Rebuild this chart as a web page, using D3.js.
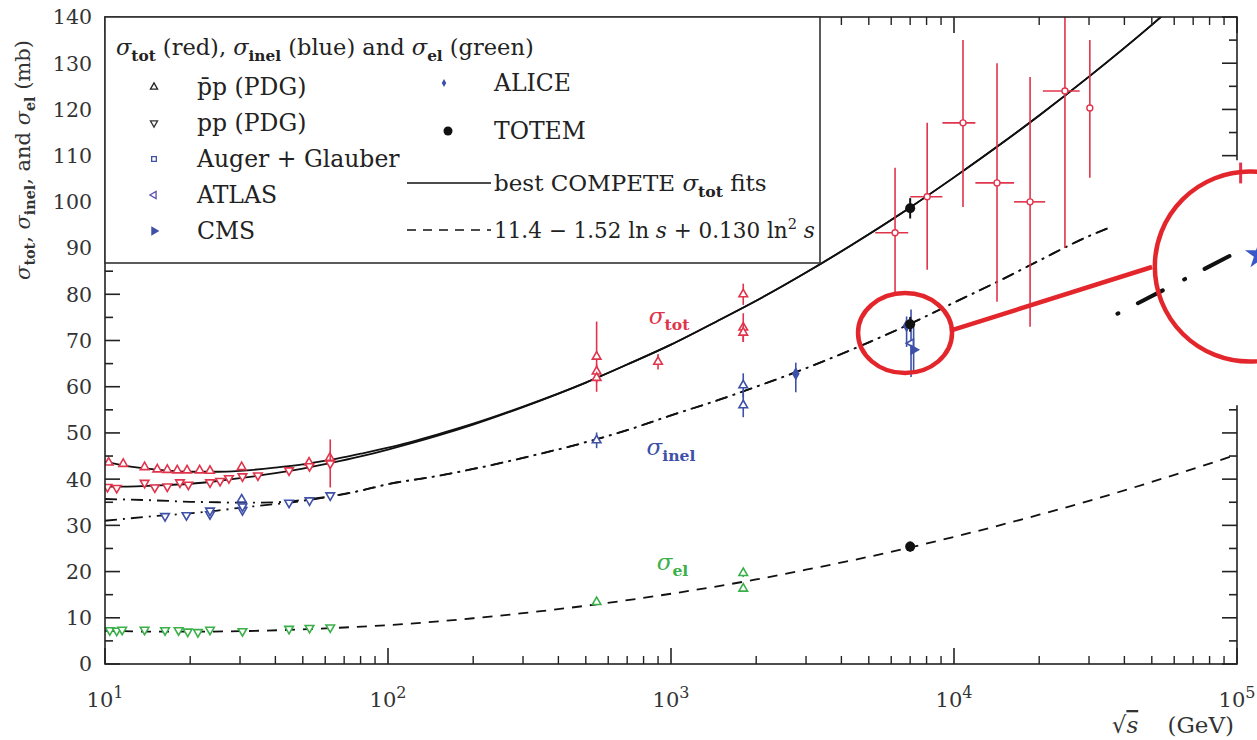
<!DOCTYPE html>
<html><head><meta charset="utf-8">
<script src="https://cdn.jsdelivr.net/npm/d3@7"></script>
<style>
body{margin:0;background:#fff;}
svg{display:block;font-family:"DejaVu Serif",serif;}
</style></head><body>
<svg id="c" width="1257" height="740"></svg>
<script>
// ---------------- data ----------------
const xTickExps = [1, 2, 3, 4, 5];
const yTickVals = [0, 10, 20, 30, 40, 50, 60, 70, 80, 90, 100, 110, 120, 130, 140];

// best COMPETE sigma_tot fits (pbar-p upper branch, pp lower branch)
const totFitE     = [10, 12, 15, 20, 25, 30, 40, 50, 63, 80, 100, 150, 200, 300, 500, 700, 1000, 1500, 2000, 3000, 5000, 7000, 10000, 15000, 20000, 30000, 50000, 60000];
const totFitPbarp = [43.8, 42.8, 42.1, 41.6, 41.6, 41.8, 42.5, 43.2, 44.2, 45.5, 46.8, 49.7, 52.0, 55.7, 60.9, 64.8, 69.1, 74.6, 78.6, 84.7, 93.0, 98.8, 105.3, 113.0, 118.7, 127.1, 138.3, 142.5];
const totFitPp    = [38.4, 38.4, 38.6, 39.0, 39.6, 40.2, 41.3, 42.3, 43.5, 44.9, 46.4, 49.4, 51.8, 55.6, 60.9, 64.8, 69.1, 74.6, 78.6, 84.7, 93.0, 98.8, 105.3, 113.0, 118.7, 127.1, 138.3, 142.5];

// inelastic fit (dash-dot)
const inelFitE     = [10, 15, 20, 25, 30, 40, 50, 63, 80, 100, 150, 200, 300, 500, 700, 1000, 1500, 2000, 3000, 5000, 7000, 10000, 15000, 20000, 30000, 35000];
const inelFitPbarp = [35.7, 35.4, 35.1, 35.0, 34.9, 35.0, 35.5, 36.3, 37.5, 38.9, 40.7, 42.2, 44.6, 48.0, 50.6, 53.8, 57.3, 60.0, 64.0, 69.6, 73.6, 78.2, 83.4, 87.3, 92.6, 94.3];
const inelFitPp    = [31.0, 32.0, 32.6, 33.2, 33.8, 34.6, 35.3, 36.3, 37.5, 38.9, 40.7, 42.2, 44.6, 48.0, 50.6, 53.8, 57.3, 60.0, 64.0, 69.6, 73.6, 78.2, 83.4, 87.3, 92.6, 94.3];

// elastic fit 11.4 - 1.52 ln s + 0.130 ln^2 s (dashed)
const elFitE = [10, 15, 20, 30, 50, 70, 100, 200, 300, 500, 1000, 2000, 3000, 5000, 10000, 20000, 30000, 50000, 100000];
const elFit  = [7.2, 7.0, 7.0, 7.1, 7.5, 7.9, 8.4, 9.9, 11.0, 12.6, 15.2, 18.3, 20.4, 23.2, 27.5, 32.3, 35.3, 39.4, 45.3];

// points: [sqrt(s) GeV, sigma mb, error]
const totPbarpPts = [[10.3,43.6,0.5],[11.6,43.3,0.5],[13.8,42.6,0.5],[15.3,42.1,0.4],[16.6,42.0,0.4],[18.0,41.9,0.4],[19.5,41.9,0.4],[21.6,41.9,0.4],[23.5,41.8,0.4],[30.4,42.6,0.6],[52.6,43.6,0.6],[62.3,44.6,1.0],
                     [546,66.5,7.6],[546,63.3,1.5],[546,61.9,1.0],[900,65.4,1.7],[1800,80.0,2.3],[1800,72.8,3.1],[1800,71.7,2.0]];
const totPpPts    = [[10.2,38.3,0.4],[11.0,38.1,0.4],[13.8,39.2,0.5],[15.0,38.2,0.4],[16.6,38.4,0.4],[18.4,39.3,0.4],[19.7,38.8,0.4],[23.5,39.3,0.4],[25.5,39.6,0.4],[27.4,40.2,0.4],[30.6,40.6,0.4],[34.7,40.8,0.4],[44.7,41.9,0.4],[52.8,42.8,0.4],[62.5,43.4,5.2]];
const inelPbarpPts = [[30.4,35.6,0.6],[546,48.4,1.7],[1800,60.3,2.6],[1800,56.0,2.6]];
const inelPpPts    = [[16.3,32.0,0.4],[19.4,32.2,0.4],[23.5,32.4,0.5],[23.5,33.2,0.5],[30.6,33.3,0.5],[30.6,34.1,0.5],[44.7,34.9,0.4],[52.8,35.4,0.4],[62.5,36.5,0.4]];
const elPbarpPts   = [[546,13.4,0.6],[1800,19.7,0.9],[1800,16.3,0.6]];
const elPpPts      = [[10.4,7.3,0.3],[11.0,7.2,0.3],[11.5,7.4,0.3],[13.8,7.4,0.3],[16.3,7.3,0.3],[18.2,7.3,0.3],[19.6,7.0,0.3],[21.3,6.9,0.3],[23.5,7.4,0.4],[30.6,7.1,0.3],[44.7,7.6,0.3],[52.8,7.8,0.3],[62.5,7.9,0.3]];
// LHC inelastic: [sqrt(s), sigma, err down, err up]
const alicePts = [[2760,62.8,4.0,2.4],[6800,73.2,4.6,2.0]];
const atlasPts = [[7050,69.4,7.3,7.3]];
const cmsPts   = [[7200,68.0,4.9,4.9]];
// TOTEM: [sqrt(s), sigma, err]
const totemPts = [[7000,98.6,2.2],[7000,73.5,1.6],[7000,25.4,1.1]];
// cosmic-ray sigma_tot (Auger + Glauber etc.): [E, Elow, Ehigh, sigma, sigmaLow, sigmaHigh]
const cosmicPts = [[6190,5270,6890,93.3,80.3,107.4],[8040,7000,9100,101.1,85.3,117.1],[10760,9100,11900,117.1,98.9,135.0],
                   [14190,11900,16300,104.1,78.4,130.0],[18570,16300,21000,100.0,73.0,127.0],[24660,20600,27800,124.0,90.0,152.0],[30200,30200,30200,120.3,105.2,135.0]];

// ---------------- chart ----------------
const svg = d3.select("#c");
svg.append("rect").attr("width",1257).attr("height",740).attr("fill","#fff");
const x = d3.scaleLog().domain([10, 1e5]).range([105, 1237]);
const y = d3.scaleLinear().domain([0, 140]).range([664, 17]);
const X0 = x.range()[0], X1 = x.range()[1], Y0 = y.range()[0], Y1 = y.range()[1];

const RED = "#e0344c", BLUE = "#3e50a8", GREEN = "#3bb04a", INK = "#111";

svg.append("defs").append("clipPath").attr("id","plot")
  .append("rect").attr("x",X0).attr("y",Y1).attr("width",X1-X0).attr("height",Y0-Y1);

const line = d3.line().x(d=>x(d[0])).y(d=>y(d[1])).curve(d3.curveMonotoneX);
const gC = svg.append("g").attr("clip-path","url(#plot)");
function curve(E, V, dash){
  gC.append("path").datum(d3.zip(E,V)).attr("d",line).attr("fill","none")
    .attr("stroke",INK).attr("stroke-width",1.8).attr("stroke-dasharray",dash||null);
}
curve(totFitE, totFitPbarp);
curve(totFitE, totFitPp);
curve(inelFitE, inelFitPbarp, "12,6,2,6");
curve(inelFitE, inelFitPp, "12,6,2,6");
curve(elFitE, elFit, "10,8");

// points
const gP = svg.append("g").attr("clip-path","url(#plot)");
const sym = (type,size)=>d3.symbol().type(type).size(size)();
function pts(data, color, type, rot, size, filled){
  data.forEach(p=>{
    const e=p[0], v=p[1], lo=p[2], hi=(p.length>3?p[3]:p[2]);
    gP.append("line").attr("x1",x(e)).attr("x2",x(e)).attr("y1",y(v-lo)).attr("y2",y(v+hi))
      .attr("stroke",color).attr("stroke-width",1.6);
    gP.append("path").attr("d",sym(type,size))
      .attr("transform",`translate(${x(e)},${y(v)}) rotate(${rot})`)
      .attr("fill",filled?color:"#fff").attr("stroke",color).attr("stroke-width",1.6);
  });
}
pts(totPbarpPts, RED, d3.symbolTriangle, 0, 32);
pts(totPpPts, RED, d3.symbolTriangle, 180, 32);
pts(inelPbarpPts, BLUE, d3.symbolTriangle, 0, 32);
pts(inelPpPts, BLUE, d3.symbolTriangle, 180, 32);
pts(elPbarpPts, GREEN, d3.symbolTriangle, 0, 32);
pts(elPpPts, GREEN, d3.symbolTriangle, 180, 32);
pts(atlasPts, BLUE, d3.symbolTriangle, -90, 30);
pts(cmsPts, BLUE, d3.symbolTriangle, 90, 30, true);
pts(alicePts, BLUE, d3.symbolDiamond, 0, 30, true);
cosmicPts.forEach(p=>{
  const [e,el,eh,v,vl,vh]=p;
  gP.append("line").attr("x1",x(e)).attr("x2",x(e)).attr("y1",y(vl)).attr("y2",y(vh)).attr("stroke",RED).attr("stroke-width",1.6);
  if (eh>el) gP.append("line").attr("x1",x(el)).attr("x2",x(eh)).attr("y1",y(v)).attr("y2",y(v)).attr("stroke",RED).attr("stroke-width",1.6);
  gP.append("circle").attr("cx",x(e)).attr("cy",y(v)).attr("r",3).attr("fill","#fff").attr("stroke",RED).attr("stroke-width",1.4);
});
totemPts.forEach(p=>{
  const [e,v,er]=p;
  gP.append("line").attr("x1",x(e)).attr("x2",x(e)).attr("y1",y(v-er)).attr("y2",y(v+er)).attr("stroke",INK).attr("stroke-width",2);
  gP.append("circle").attr("cx",x(e)).attr("cy",y(v)).attr("r",5).attr("fill",INK);
});

// frame and ticks
const gA = svg.append("g");
gA.append("rect").attr("x",X0).attr("y",Y1).attr("width",X1-X0).attr("height",Y0-Y1)
  .attr("fill","none").attr("stroke","#222").attr("stroke-width",1.6);
const minor = [];
xTickExps.slice(0,-1).forEach(k=>{ for(let m=2;m<=9;m++) minor.push(m*Math.pow(10,k)); });
xTickExps.forEach(k=>{
  const v=Math.pow(10,k), px=x(v);
  gA.append("line").attr("x1",px).attr("x2",px).attr("y1",Y0).attr("y2",Y0-16).attr("stroke","#222").attr("stroke-width",1.6);
  gA.append("line").attr("x1",px).attr("x2",px).attr("y1",Y1).attr("y2",Y1+16).attr("stroke","#222").attr("stroke-width",1.6);
  const t = gA.append("text").attr("x",px).attr("y",707).attr("text-anchor","middle").attr("font-size",21).attr("fill","#333");
  t.append("tspan").text("10");
  t.append("tspan").attr("font-size",16).attr("dy",-9).text(k);
});
minor.forEach(v=>{
  const px=x(v);
  gA.append("line").attr("x1",px).attr("x2",px).attr("y1",Y0).attr("y2",Y0-8).attr("stroke","#222").attr("stroke-width",1.4);
  gA.append("line").attr("x1",px).attr("x2",px).attr("y1",Y1).attr("y2",Y1+8).attr("stroke","#222").attr("stroke-width",1.4);
});
d3.range(0,141,5).forEach(v=>{
  const py=y(v), L=(v%10===0)?15:8;
  gA.append("line").attr("x1",X0).attr("x2",X0+L).attr("y1",py).attr("y2",py).attr("stroke","#222").attr("stroke-width",1.6);
  gA.append("line").attr("x1",X1).attr("x2",X1-L).attr("y1",py).attr("y2",py).attr("stroke","#222").attr("stroke-width",1.6);
});
yTickVals.forEach(v=>{
  gA.append("text").attr("x",92).attr("y",y(v)).attr("dy","0.36em").attr("text-anchor","end")
    .attr("font-size",20.5).attr("fill","#333").text(v);
});

// rich text helper
function rich(t, parts, fs){
  let shift=0;
  parts.forEach(p=>{
    const s=t.append("tspan").text(p.t);
    let target=0;
    if(p.it) s.attr("font-style","italic");
    if(p.sub){ target=fs*0.25; s.attr("font-size",fs*0.68).attr("font-weight","bold"); }
    if(p.sup){ target=-fs*0.4; s.attr("font-size",fs*0.68); }
    if(target!==shift){ s.attr("dy",target-shift); shift=target; }
  });
}

// curve labels
rich(svg.append("text").attr("x",x(835)).attr("y",y(73.6)).attr("font-size",23).attr("fill",RED),
  [{t:"σ",it:true},{t:"tot",sub:true}],23);
rich(svg.append("text").attr("x",x(820)).attr("y",y(45.2)).attr("font-size",23).attr("fill",BLUE),
  [{t:"σ",it:true},{t:"inel",sub:true}],23);
rich(svg.append("text").attr("x",x(890)).attr("y",y(20.3)).attr("font-size",23).attr("fill",GREEN),
  [{t:"σ",it:true},{t:"el",sub:true}],23);

// legend
const LX=X0, LY=Y1, LW=715, LH=246;
const gL = svg.append("g");
gL.append("rect").attr("x",LX).attr("y",LY).attr("width",LW).attr("height",LH)
  .attr("fill","#fff").attr("stroke","#333").attr("stroke-width",1.6);
rich(gL.append("text").attr("x",LX+11).attr("y",LY+38).attr("font-size",22.5).attr("fill","#222"),
  [{t:"σ",it:true},{t:"tot",sub:true},{t:" (red), "},{t:"σ",it:true},{t:"inel",sub:true},{t:" (blue) and "},{t:"σ",it:true},{t:"el",sub:true},{t:" (green)"}],22.5);
const FS=23.5;
const leftItems = [
  {lab:"p\u0304p (PDG)", type:d3.symbolTriangle, rot:0, c:"#222", fill:"#fff"},
  {lab:"pp (PDG)", type:d3.symbolTriangle, rot:180, c:"#333", fill:"#fff"},
  {lab:"Auger + Glauber", type:d3.symbolSquare, rot:0, c:BLUE, fill:"#fff"},
  {lab:"ATLAS", type:d3.symbolTriangle, rot:-90, c:"#5a4fb0", fill:"#fff"},
  {lab:"CMS", type:d3.symbolTriangle, rot:90, c:BLUE, fill:BLUE}
];
leftItems.forEach((it,i)=>{
  const cy = LY + 70 + i*36;
  gL.append("path").attr("d",sym(it.type,22)).attr("transform",`translate(${LX+49},${cy}) rotate(${it.rot})`)
    .attr("fill",it.fill).attr("stroke",it.c).attr("stroke-width",1.3);
  gL.append("text").attr("x",LX+92).attr("y",cy+8).attr("font-size",FS).attr("fill","#222").text(it.lab);
});
// right column
const RX = LX+339, TX = LX+389;
gL.append("path").attr("d",sym(d3.symbolDiamond,18)).attr("transform",`translate(${RX},${LY+66})`).attr("fill",BLUE);
gL.append("text").attr("x",TX).attr("y",LY+74).attr("font-size",FS).attr("fill","#222").text("ALICE");
gL.append("circle").attr("cx",RX+4).attr("cy",LY+114).attr("r",4.5).attr("fill",INK);
gL.append("text").attr("x",TX).attr("y",LY+122).attr("font-size",FS).attr("fill","#222").text("TOTEM");
gL.append("line").attr("x1",LX+302).attr("x2",TX-3).attr("y1",LY+166).attr("y2",LY+166).attr("stroke",INK).attr("stroke-width",1.6);
rich(gL.append("text").attr("x",TX).attr("y",LY+174).attr("font-size",23).attr("fill","#222"),
  [{t:"best COMPETE "},{t:"σ",it:true},{t:"tot",sub:true},{t:" fits"}],23);
gL.append("line").attr("x1",LX+302).attr("x2",TX-3).attr("y1",LY+213).attr("y2",LY+213).attr("stroke",INK).attr("stroke-width",1.6).attr("stroke-dasharray","9,7");
rich(gL.append("text").attr("x",TX).attr("y",LY+221).attr("font-size",21.5).attr("fill","#222"),
  [{t:"11.4 − 1.52 ln "},{t:"s",it:true},{t:" + 0.130 ln"},{t:"2",sup:true},{t:" "},{t:"s",it:true}],21.5);

// axis titles
const yl = svg.append("text").attr("transform","translate(30,160) rotate(-90)").attr("text-anchor","middle")
  .attr("font-size",21).attr("fill","#333");
rich(yl,[{t:"σ",it:true},{t:"tot",sub:true},{t:", "},{t:"σ",it:true},{t:"inel",sub:true},{t:", and "},{t:"σ",it:true},{t:"el",sub:true},{t:"   (mb)"}],21);
const xl = svg.append("text").attr("x",1234).attr("y",733).attr("text-anchor","end").attr("font-size",23).attr("fill","#333")
  .attr("xml:space","preserve").style("white-space","pre");
xl.append("tspan").text("√");
xl.append("tspan").attr("font-style","italic").style("text-decoration","overline").text("s");
xl.append("tspan").text("    (GeV)");

// zoom annotation
const AR = "#e3262c";
const smallC = [6714, 71.6], bigC = [111000, 86];
const linkA = [9900, 72.3], linkB = [50100, 85.9];
const inset = [36500, 1.4e5, 56, 109];
svg.append("rect").attr("x",x(inset[0])).attr("y",y(inset[3])).attr("width",x(inset[1])-x(inset[0])).attr("height",y(inset[2])-y(inset[3])).attr("fill","#fff");
const magLine = [[37800, 75.8],[95000, 88.4]];
svg.append("line").attr("x1",x(magLine[0][0])).attr("y1",y(magLine[0][1])).attr("x2",x(magLine[1][0])).attr("y2",y(magLine[1][1]))
  .attr("stroke",INK).attr("stroke-width",4).attr("stroke-linecap","round").attr("stroke-dasharray","1,22,28,24");
svg.append("path").attr("d",sym(d3.symbolStar,260)).attr("transform",`translate(${x(1.2e5)},${y(88.5)})`).attr("fill","#3a57c8");
svg.append("line").attr("x1",x(1.03e5)).attr("x2",x(1.03e5)).attr("y1",y(108.5)).attr("y2",y(104)).attr("stroke",RED).attr("stroke-width",3);
svg.append("ellipse").attr("cx",x(smallC[0])).attr("cy",y(smallC[1])).attr("rx",47).attr("ry",40)
  .attr("fill","none").attr("stroke",AR).attr("stroke-width",4.5);
svg.append("line").attr("x1",x(linkA[0])).attr("y1",y(linkA[1])).attr("x2",x(linkB[0])).attr("y2",y(linkB[1]))
  .attr("stroke",AR).attr("stroke-width",4.5);
svg.append("circle").attr("cx",x(bigC[0])).attr("cy",y(bigC[1])).attr("r",95)
  .attr("fill","none").attr("stroke",AR).attr("stroke-width",4.5);
</script>
</body></html>
